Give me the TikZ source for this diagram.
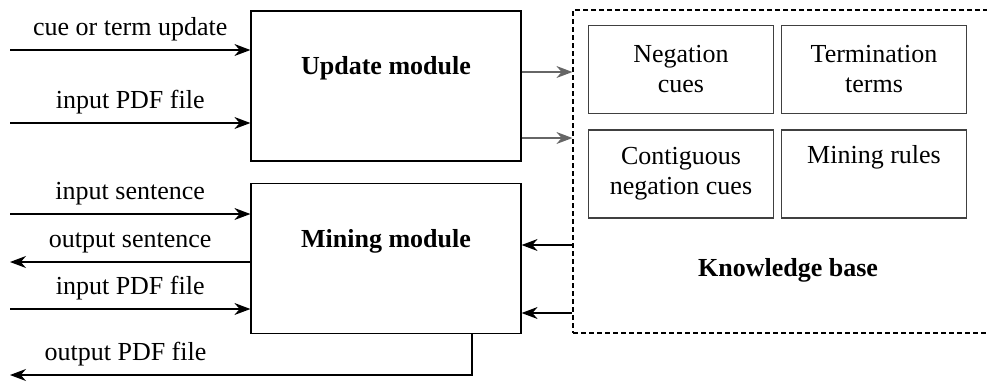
\documentclass[tikz,border=0pt]{standalone}
\usepackage{fontspec}
\setmainfont{Liberation Serif}
\usetikzlibrary{arrows.meta}
\begin{document}
\begin{tikzpicture}[x=1pt,y=-1pt,line width=1.2pt,
  font=\fontsize{26}{30}\selectfont,
  arr/.style={-{Stealth[length=16pt,width=12pt]}},
  module/.style={draw,minimum width=270pt,minimum height=150pt,inner sep=0pt},
  part/.style={draw=black!75,minimum width=185pt,minimum height=88pt,inner sep=0pt,align=center},
  title/.style={font=\fontsize{26}{30}\selectfont\bfseries}]
  \useasboundingbox (0,0) rectangle (987,381);
  \clip (0,0) rectangle (987,381);
  % modules
  \node[module] (upd) at (386,86) {};
  \node[module] (mine) at (386,258.5) {};
  \node[title] (updt) at (386,68) {Update module};
  \node[title] (minet) at (386,241) {Mining module};
  % knowledge base
  \node[draw,dash pattern=on 5pt off 3pt,minimum width=430pt,minimum height=323pt,inner sep=0pt] (kb) at (788,171.5) {};
  \node[title] (kbt) at (788,270) {Knowledge base};
  \foreach \n/\x/\y/\t in {neg/681/69.5/{Negation\\cues},term/874/69.5/{Termination\\terms},
    cont/681/174/{Contiguous\\negation cues},rules/874/174/{Mining rules\\\strut}}
  {
    \node[part] (\n) at (\x,\y) {\t};
  }
  % inputs and outputs
  \coordinate (c1) at (10,50);
  \coordinate (c2) at (10,123);
  \coordinate (c3) at (10,214);
  \coordinate (c4) at (10,262);
  \coordinate (c5) at (10,309);
  \coordinate (c6) at (10,375);
  \coordinate (c7) at (472,375);
  \draw[arr] (c1) -- node[above=5pt] {cue or term update} (c1 -| upd.west);
  \draw[arr] (c2) -- node[above=5pt] {input PDF file} (c2 -| upd.west);
  \draw[arr] (c3) -- node[above=5pt] {input sentence} (c3 -| mine.west);
  \draw[arr] (c4 -| mine.west) -- node[above=5pt] {output sentence} (c4);
  \draw[arr] (c5) -- node[above=5pt] {input PDF file} (c5 -| mine.west);
  \draw[arr] (c7 |- mine.south) -- (c7) -- node[above=5pt,pos=0.75] {output PDF file} (c6);
  % module links
  \draw[arr,black!60] (upd.east |- 0,72) -- (kb.west |- 0,72);
  \draw[arr,black!60] (upd.east |- 0,138) -- (kb.west |- 0,138);
  \draw[arr] (kb.west |- 0,245) -- (mine.east |- 0,245);
  \draw[arr] (kb.west |- 0,313) -- (mine.east |- 0,313);
\end{tikzpicture}
\end{document}
